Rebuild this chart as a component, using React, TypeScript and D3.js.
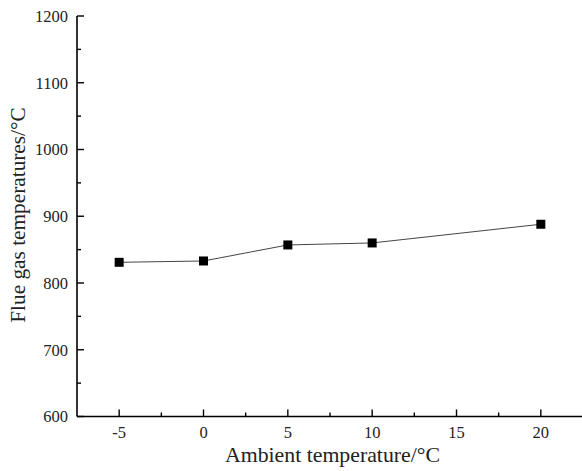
import React from "react";
import * as d3 from "d3";

const ambient = [-5, 0, 5, 10, 20];
const flueGas = [831, 833, 857, 860, 888];
const xTicks = [-5, 0, 5, 10, 15, 20];
const xMinor = [-2.5, 2.5, 7.5, 12.5, 17.5, 22.5];
const yTicks = [600, 700, 800, 900, 1000, 1100, 1200];
const yMinor = [650, 750, 850, 950, 1050, 1150];

const W = 582;
const H = 471;
const font = "Liberation Serif";

export default function App() {
  const x = d3.scaleLinear().domain([-7.5, 22.5]).range([77, 583]);
  const y = d3.scaleLinear().domain([600, 1200]).range([416.5, 16]);
  const path = d3
    .line<number>()
    .x((_, i) => x(ambient[i]))
    .y((d) => y(d))(flueGas);

  const x0 = x(-7.5);
  const y0 = y(600);

  return (
    <svg
      width={W}
      height={H}
      style={{ position: "absolute", left: 0, top: 0, background: "#fff" }}
    >
      {/* axes */}
      <line x1={x0} x2={x0} y1={y(1200)} y2={y0} stroke="#000" strokeWidth={1.6} />
      <line x1={x0} x2={W} y1={y0} y2={y0} stroke="#000" strokeWidth={1.6} />

      {yTicks.map((t) => (
        <g key={"y" + t}>
          <line x1={x0} x2={x0 + 7} y1={y(t)} y2={y(t)} stroke="#000" strokeWidth={1.4} />
          <text
            x={x0 - 9}
            y={y(t)}
            dy="0.35em"
            textAnchor="end"
            fontSize={16.5}
            fontFamily={font}
            fill="#222"
          >
            {t}
          </text>
        </g>
      ))}
      {yMinor.map((t) => (
        <line key={"ym" + t} x1={x0} x2={x0 + 4} y1={y(t)} y2={y(t)} stroke="#000" strokeWidth={1.4} />
      ))}

      {xTicks.map((t) => (
        <g key={"x" + t}>
          <line x1={x(t)} x2={x(t)} y1={y0} y2={y0 - 7} stroke="#000" strokeWidth={1.4} />
          <text
            x={x(t)}
            y={y0 + 21}
            textAnchor="middle"
            fontSize={16.5}
            fontFamily={font}
            fill="#222"
          >
            {t}
          </text>
        </g>
      ))}
      {xMinor.map((t) => (
        <line key={"xm" + t} x1={x(t)} x2={x(t)} y1={y0} y2={y0 - 4} stroke="#000" strokeWidth={1.4} />
      ))}

      {/* series */}
      <path d={path ?? ""} fill="none" stroke="#444" strokeWidth={1} />
      {flueGas.map((v, i) => (
        <rect
          key={i}
          x={x(ambient[i]) - 4.5}
          y={y(v) - 4.5}
          width={9}
          height={9}
          fill="#000"
        />
      ))}

      {/* titles */}
      <text x={332.5} y={461.5} textAnchor="middle" fontSize={21.8} fontFamily={font} fill="#222">
        Ambient temperature/°C
      </text>
      <text
        transform={`translate(24.5, 215) rotate(-90)`}
        textAnchor="middle"
        fontSize={21.3}
        fontFamily={font}
        fill="#222"
      >
        Flue gas temperatures/°C
      </text>
    </svg>
  );
}
